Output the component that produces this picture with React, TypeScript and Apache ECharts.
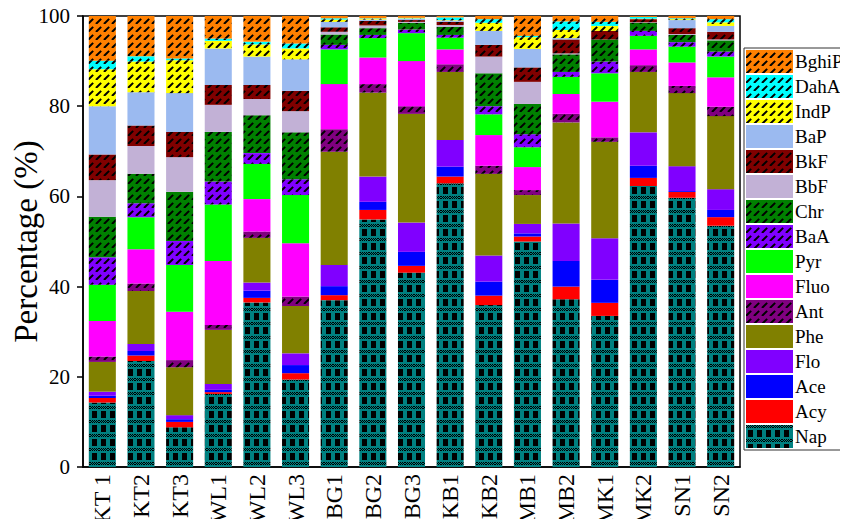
import React, { useEffect, useRef } from "react";
import * as echarts from "echarts";

const categories = ["KT 1", "KT2", "KT3", "WL1", "WL2", "WL3", "BG1", "BG2", "BG3", "KB1", "KB2", "MB1", "MB2", "MK1", "MK2", "SN1", "SN2"];

const Nap = [14.3, 23.5, 8.8, 16.2, 36.5, 19.4, 37.0, 54.9, 43.1, 62.9, 35.9, 50.0, 37.2, 33.5, 62.3, 59.7, 53.5];
const Acy = [1.0, 1.2, 1.2, 0.4, 1.0, 1.4, 1.1, 2.1, 1.5, 1.5, 2.1, 1.1, 2.8, 2.9, 1.8, 1.3, 1.9];
const Ace = [0.5, 1.0, 0.6, 0.5, 1.6, 1.8, 2.0, 1.8, 3.1, 2.2, 3.1, 0.7, 5.7, 5.1, 2.7, 0.2, 1.6];
const Flo = [0.9, 1.6, 0.9, 1.3, 1.8, 2.6, 4.7, 5.6, 6.5, 5.9, 5.8, 2.1, 8.3, 9.2, 7.4, 5.5, 4.6];
const Phe = [6.6, 11.7, 10.6, 12.0, 9.9, 10.5, 25.1, 18.6, 24.1, 15.1, 18.1, 6.4, 22.4, 21.4, 13.4, 16.2, 16.2];
const Ant = [1.2, 1.7, 1.6, 1.1, 1.4, 2.1, 5.0, 1.9, 1.7, 1.7, 1.8, 1.1, 1.9, 1.0, 1.5, 1.6, 2.1];
const Fluo = [7.9, 7.6, 10.7, 14.2, 7.2, 11.8, 10.0, 5.9, 10.0, 3.3, 6.8, 5.1, 4.4, 7.9, 3.5, 5.2, 6.5];
const Pyr = [8.0, 7.1, 10.4, 12.5, 7.8, 10.7, 7.7, 4.3, 6.2, 2.6, 4.6, 4.4, 3.8, 6.3, 3.0, 3.5, 4.6];
const BaA = [6.1, 3.1, 5.3, 5.1, 2.4, 3.5, 1.0, 0.7, 0.8, 0.6, 1.8, 2.9, 1.1, 2.6, 1.1, 1.0, 1.1];
const Chr = [9.0, 6.5, 10.9, 11.0, 8.4, 10.4, 2.3, 1.5, 1.5, 1.8, 7.3, 6.7, 3.9, 4.9, 1.8, 1.6, 2.5];
const BbF = [8.1, 6.2, 7.7, 6.0, 3.6, 4.7, 0.6, 0.6, 0.2, 0.4, 3.7, 4.9, 0.2, 0.0, 0.1, 0.2, 0.2];
const BkF = [5.7, 4.5, 5.6, 4.4, 3.1, 4.5, 1.0, 1.0, 0.4, 0.7, 2.6, 3.2, 3.1, 1.9, 0.7, 1.3, 1.7];
const BaP = [10.7, 7.4, 8.6, 8.1, 6.3, 7.0, 1.2, 0.3, 0.3, 0.3, 3.1, 4.1, 0.3, 0.0, 0.0, 1.8, 1.3];
const IndP = [8.2, 6.8, 7.3, 1.7, 2.7, 2.4, 0.5, 0.2, 0.1, 0.1, 1.8, 2.6, 1.8, 1.1, 0.1, 0.2, 0.8];
const DahA = [1.9, 1.2, 0.4, 0.5, 0.6, 1.1, 0.3, 0.1, 0.1, 0.6, 0.8, 0.3, 1.9, 0.9, 0.4, 0.2, 0.7];
const BghiP = [9.9, 8.9, 9.4, 5.0, 5.7, 6.1, 0.5, 0.5, 0.4, 0.3, 0.7, 4.4, 1.2, 1.3, 0.2, 0.5, 0.7];

const yTicks = { min: 0, max: 100, interval: 20 };

type Fill = { kind: "solid" | "hatch" | "check"; color: string };

const seriesDefs: { name: string; data: number[]; fill: Fill }[] = [
  { name: "Nap", data: Nap, fill: { kind: "check", color: "#008080" } },
  { name: "Acy", data: Acy, fill: { kind: "solid", color: "#FF0000" } },
  { name: "Ace", data: Ace, fill: { kind: "solid", color: "#0000FF" } },
  { name: "Flo", data: Flo, fill: { kind: "solid", color: "#8000FF" } },
  { name: "Phe", data: Phe, fill: { kind: "solid", color: "#808000" } },
  { name: "Ant", data: Ant, fill: { kind: "hatch", color: "#800080" } },
  { name: "Fluo", data: Fluo, fill: { kind: "solid", color: "#FF00FF" } },
  { name: "Pyr", data: Pyr, fill: { kind: "solid", color: "#00FF00" } },
  { name: "BaA", data: BaA, fill: { kind: "hatch", color: "#8000FF" } },
  { name: "Chr", data: Chr, fill: { kind: "hatch", color: "#008000" } },
  { name: "BbF", data: BbF, fill: { kind: "solid", color: "#C2B1D6" } },
  { name: "BkF", data: BkF, fill: { kind: "hatch", color: "#800000" } },
  { name: "BaP", data: BaP, fill: { kind: "solid", color: "#9BBAF0" } },
  { name: "IndP", data: IndP, fill: { kind: "hatch", color: "#FFFF00" } },
  { name: "DahA", data: DahA, fill: { kind: "hatch", color: "#00FFFF" } },
  { name: "BghiP", data: BghiP, fill: { kind: "hatch", color: "#FF8000" } },
];

function hatchPattern(bg: string) {
  const s = 8;
  const c = document.createElement("canvas");
  c.width = s;
  c.height = s;
  const ctx = c.getContext("2d")!;
  ctx.fillStyle = bg;
  ctx.fillRect(0, 0, s, s);
  ctx.strokeStyle = "#000";
  ctx.lineWidth = 2;
  ctx.setLineDash([7.3, 4]);
  for (const off of [-s, 0, s]) {
    ctx.beginPath();
    ctx.moveTo(off, s);
    ctx.lineTo(off + s, 0);
    ctx.stroke();
  }
  return { image: c, repeat: "repeat", imageWidth: s, imageHeight: s };
}

function checkPattern(bg: string) {
  const w = 9;
  const h = 14;
  const c = document.createElement("canvas");
  c.width = w;
  c.height = h;
  const ctx = c.getContext("2d")!;
  ctx.fillStyle = bg;
  ctx.fillRect(0, 0, w, h);
  ctx.fillStyle = "#000";
  for (let y = 0; y < 3; y++) {
    for (let x = 0; x < w; x++) {
      if ((x + y) % 2 === 0) ctx.fillRect(x, y, 1, 1);
    }
  }
  ctx.fillRect(2, 5, 5, 7);
  return { image: c, repeat: "repeat", imageWidth: w, imageHeight: h };
}

function makeFill(f: Fill): any {
  if (f.kind === "hatch") return hatchPattern(f.color);
  if (f.kind === "check") return checkPattern(f.color);
  return f.color;
}

const FONT = "Liberation Serif";

export default function App() {
  const ref = useRef<HTMLDivElement>(null);
  useEffect(() => {
    if (!ref.current) return;
    const chart = echarts.init(ref.current, null, { renderer: "svg" });
    const option: any = {
      animation: false,
      backgroundColor: "#fff",
      grid: {
        left: 83,
        right: 108,
        top: 16,
        bottom: 60,
        show: true,
        borderColor: "#000",
        borderWidth: 1.5,
        containLabel: false,
        outerBoundsMode: "none",
      },
      legend: {
        orient: "vertical",
        left: 744,
        top: 48,
        padding: [2, 40, 2, 2],
        itemWidth: 47,
        itemHeight: 23,
        itemGap: 2,
        itemStyle: { borderWidth: 0 },
        icon: "rect",
        borderColor: "#333",
        borderWidth: 1,
        backgroundColor: "#fff",
        selectedMode: false,
        textStyle: { fontFamily: FONT, fontSize: 19, color: "#000", padding: [0, 0, 0, -3] },
        data: seriesDefs.map((s) => s.name).reverse(),
      },
      xAxis: {
        type: "category",
        data: categories,
        axisLine: { lineStyle: { color: "#000", width: 1.5 } },
        axisTick: { alignWithLabel: true, length: 6, lineStyle: { color: "#000", width: 1.5 } },
        axisLabel: { rotate: 90, fontFamily: FONT, fontSize: 24, color: "#000", margin: 7, interval: 0 },
      },
      yAxis: {
        type: "value",
        min: yTicks.min,
        max: yTicks.max,
        interval: yTicks.interval,
        name: "Percentage (%)",
        nameLocation: "middle",
        nameGap: 41,
        nameMoveOverlap: false,
        nameTextStyle: { fontFamily: FONT, fontSize: 33, color: "#000" },
        axisLine: { show: true, lineStyle: { color: "#000", width: 1.5 } },
        axisTick: { show: true, length: 6, lineStyle: { color: "#000", width: 1.5 } },
        axisLabel: { fontFamily: FONT, fontSize: 21, color: "#000", margin: 13 },
        splitLine: { show: false },
      },
      series: seriesDefs.map((s) => ({
        name: s.name,
        type: "bar",
        stack: "total",
        barWidth: "70%",
        data: s.data,
        itemStyle: { color: makeFill(s.fill) },
        emphasis: { disabled: true },
      })),
    };
    chart.setOption(option);
    return () => chart.dispose();
  }, []);
  return <div ref={ref} style={{ width: 848, height: 527, margin: -8 }} />;
}
